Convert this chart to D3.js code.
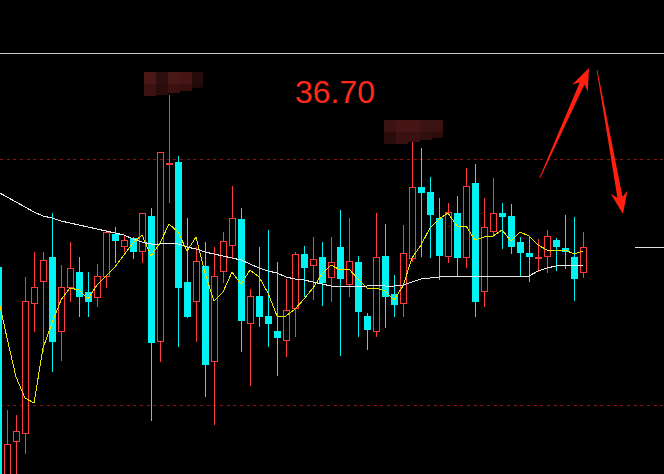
<!DOCTYPE html>
<html><head><meta charset="utf-8">
<script src="https://cdn.jsdelivr.net/npm/d3@7/dist/d3.min.js"></script>
<style>html,body{margin:0;padding:0;background:#000;overflow:hidden}svg{display:block}</style>
</head><body><svg id="c" width="664" height="474"></svg>
<script>
// ---- data (index -1 .. 64) ----
const startIndex = -1;
const opens  = [34.56,32.38,32.81,32.89,34.19,34.41,34.66,33.91,34.35,34.51,34.31,34.25,34.46,34.89,34.76,34.85,34.71,35.07,33.81,35.58,35.61,34.41,34.21,34.57,33.61,34.51,34.77,35.04,33.99,34.27,34.07,33.92,33.82,34.14,34.69,34.57,34.66,34.45,34.76,34.38,34.61,34.07,33.91,34.67,34.29,34.19,34.64,35.36,35.31,35.05,34.66,35.10,34.65,35.40,34.31,34.91,35.10,35.07,34.81,34.70,34.64,34.66,34.83,34.75,34.66,34.50];
const highs  = [34.61,33.13,33.08,34.46,34.71,34.71,35.10,34.58,34.81,34.66,34.51,34.59,34.93,34.96,34.88,34.86,35.10,35.15,35.71,36.28,35.67,35.05,34.76,34.81,34.76,34.91,35.37,35.15,34.34,34.76,34.93,34.61,34.44,34.71,34.77,34.86,34.81,34.86,35.13,35.05,34.67,34.10,35.10,34.99,34.48,34.98,35.81,35.75,35.46,35.25,35.20,35.27,35.55,35.59,35.25,35.45,35.20,35.19,34.86,34.86,34.84,34.93,34.85,35.08,35.06,34.91];
const lows   = [32.33,32.28,32.33,32.69,33.91,33.71,33.51,33.62,34.21,34.06,34.06,34.16,34.35,34.60,34.71,34.64,34.60,33.02,33.61,35.20,33.76,34.05,33.81,33.26,32.98,34.40,34.64,33.71,33.37,33.96,33.76,33.47,33.66,33.86,34.26,34.23,34.17,34.21,33.67,34.26,33.86,33.73,33.86,33.95,34.06,34.06,34.61,34.66,34.65,34.43,34.60,34.46,34.55,34.06,34.16,34.86,34.74,34.69,34.46,34.41,34.51,34.50,34.52,34.54,34.22,34.45];
const closes = [32.43,32.79,32.92,34.22,34.36,34.63,33.81,34.36,34.55,34.26,34.21,34.47,34.91,34.82,34.83,34.71,35.10,33.80,35.71,35.60,34.35,34.06,34.62,33.58,34.47,34.82,35.05,34.02,34.27,34.06,33.99,33.85,34.13,34.69,34.55,34.64,34.40,34.61,34.44,34.62,34.11,33.93,34.66,34.26,34.18,34.70,35.36,35.30,35.08,34.67,35.11,34.65,35.37,34.21,34.96,35.10,35.06,34.76,34.70,34.66,34.66,34.87,34.76,34.71,34.44,34.76];
const ma5    = [34.26,33.85,33.46,33.25,33.20,33.75,34.00,34.23,34.35,34.33,34.24,34.38,34.47,34.56,34.68,34.80,34.88,34.67,34.80,34.99,34.91,34.72,34.86,34.50,34.22,34.31,34.51,34.39,34.53,34.46,34.30,34.07,34.07,34.14,34.24,34.35,34.49,34.58,34.53,34.54,34.44,34.35,34.35,34.32,34.23,34.37,34.65,34.78,34.95,35.04,35.10,34.97,34.97,34.83,34.86,34.87,34.93,34.82,34.91,34.87,34.78,34.73,34.73,34.73,34.69,34.72];
const maLong = [35.31,35.26,35.21,35.16,35.11,35.07,35.05,35.02,35.00,34.98,34.96,34.94,34.92,34.90,34.88,34.84,34.81,34.79,34.79,34.80,34.79,34.76,34.74,34.71,34.69,34.67,34.65,34.63,34.59,34.55,34.52,34.50,34.46,34.44,34.43,34.41,34.39,34.37,34.37,34.37,34.37,34.37,34.38,34.37,34.37,34.38,34.41,34.44,34.45,34.46,34.47,34.46,34.47,34.47,34.47,34.47,34.47,34.47,34.47,34.47,34.52,34.55,34.57,34.58,34.58,34.58];
const refLevel = 36.70;
const gridLevels = [35.64, 33.18];
const lastPrice = 34.76;
const labelText = "36.70";
const censoredHighs = [18, 45];
const arrowsData = [
  {from:[59.2,35.45], to:[64.67,36.55]},
  {from:[65.56,36.53], to:[68.44,35.09]}
];

// ---- chart ----
const W = 664, H = 474;
const RED = "#ff3a3a", CYAN = "#00f2f2";
const svg = d3.select("#c");
svg.append("rect").attr("width",W).attr("height",H).attr("fill","#000");

const x = d3.scaleLinear().domain([0,64]).range([7,583]);
const y = d3.scaleLinear().domain([32.49,37.23]).range([H,0]);

const bars = opens.map((o,k)=>({i:k+startIndex,o,h:highs[k],l:lows[k],c:closes[k]}));

// reference lines
svg.append("line").attr("x1",0).attr("x2",W)
  .attr("y1",Math.round(y(refLevel))+0.5).attr("y2",Math.round(y(refLevel))+0.5)
  .attr("stroke","#c8c8c8").attr("stroke-width",1).attr("shape-rendering","crispEdges");
svg.selectAll("line.grid").data(gridLevels).join("line").attr("class","grid")
  .attr("x1",0).attr("x2",W)
  .attr("y1",d=>Math.round(y(d))+0.5).attr("y2",d=>Math.round(y(d))+0.5)
  .attr("stroke","#8a1414").attr("stroke-width",1).attr("stroke-dasharray","3,3.67")
  .attr("shape-rendering","crispEdges");

// candles
const g = svg.append("g").attr("shape-rendering","crispEdges");
bars.forEach(b=>{
  const cx = Math.round(x(b.i));
  const up = b.c >= b.o;
  const yt = Math.round(y(Math.max(b.o,b.c))), yb = Math.round(y(Math.min(b.o,b.c)));
  const yh = Math.round(y(b.h)), yl = Math.round(y(b.l));
  if (up) {
    if (yb - yt < 3) {
      g.append("rect").attr("x",cx+0.5-0.5).attr("y",yh).attr("width",1).attr("height",Math.max(1,yl-yh)).attr("fill",RED);
      g.append("rect").attr("x",cx-3).attr("y",yt).attr("width",7).attr("height",Math.max(2,yb-yt)).attr("fill",RED);
    } else {
      if (yt > yh) g.append("rect").attr("x",cx).attr("y",yh).attr("width",1).attr("height",yt-yh).attr("fill",RED);
      if (yl > yb) g.append("rect").attr("x",cx).attr("y",yb).attr("width",1).attr("height",yl-yb).attr("fill",RED);
      g.append("rect").attr("x",cx-2.5).attr("y",yt+0.5).attr("width",6).attr("height",yb-yt-1)
        .attr("fill","none").attr("stroke",RED).attr("stroke-width",1);
    }
  } else {
    g.append("rect").attr("x",cx).attr("y",yh).attr("width",1).attr("height",Math.max(1,yl-yh)).attr("fill",CYAN);
    g.append("rect").attr("x",cx-3).attr("y",yt).attr("width",7).attr("height",Math.max(1,yb-yt)).attr("fill",CYAN);
  }
});

// moving averages
const line = d3.line().x((d,k)=>x(k+startIndex)).y(d=>y(d));
svg.append("path").attr("d",line(maLong)).attr("fill","none").attr("stroke","#e8e8e8")
  .attr("stroke-width",1).attr("shape-rendering","crispEdges");
svg.append("path").attr("d",line(ma5)).attr("fill","none").attr("stroke","#e8e800")
  .attr("stroke-width",1).attr("shape-rendering","crispEdges");

// current price marker
const lp = Math.round(y(lastPrice))+0.5;
svg.append("line").attr("x1",x(64)+52).attr("x2",W).attr("y1",lp).attr("y2",lp)
  .attr("stroke","#e0e0e0").attr("stroke-width",1).attr("shape-rendering","crispEdges");

// censored (mosaic) labels near highs
const mosaicTop = [["#4a1616","#2e0e0e","#481717","#461616","#250b0b"],["#3c1313","#461616","#461616","#3c1313","#3a1212"]];
const mosaicBot = [["#3c1212","#2a0c0c","#3a1010","#380f0f","#1e0808"],["#2a0c0c","#3a1010","#3a1010","#320e0e","#2a0c0c"]];
const botH = [[12,11,9,7,4],[12,12,10,8,6]];
const offs = [[-25,-23],[-28,-22]];
censoredHighs.forEach((ci,m)=>{
  const k = ci - startIndex;
  const ax = Math.round(x(ci)) + offs[m][0], ay = Math.round(y(highs[k])) + offs[m][1];
  const cw = [12,12,12,12,11];
  let xx = ax;
  for (let c=0;c<5;c++){
    svg.append("rect").attr("x",xx).attr("y",ay).attr("width",cw[c]).attr("height",12).attr("fill",mosaicTop[m][c]);
    svg.append("rect").attr("x",xx).attr("y",ay+12).attr("width",cw[c]).attr("height",botH[m][c]).attr("fill",mosaicBot[m][c]);
    xx += cw[c];
  }
});

// big label
svg.append("text").attr("x",x(32)).attr("y",y(refLevel)+50)
  .attr("font-family","Liberation Sans, Arial, sans-serif").attr("font-size",32)
  .attr("fill","#ff2a1a").text(labelText);

// arrows
function arrowPoly(t,p,L,hw){
  const dx=p[0]-t[0], dy=p[1]-t[1], len=Math.hypot(dx,dy);
  const ux=dx/len, uy=dy/len, nx=-uy, ny=ux;
  const bx=p[0]-ux*L, by=p[1]-uy*L;
  const sx=bx+ux*5, sy=by+uy*5;
  return [[t[0]+nx*0.4,t[1]+ny*0.4],[sx+nx*2.6,sy+ny*2.6],[bx+nx*hw,by+ny*hw],p,
          [bx-nx*hw,by-ny*hw],[sx-nx*2.6,sy-ny*2.6],[t[0]-nx*0.4,t[1]-ny*0.4]];
}
arrowsData.forEach(a=>{
  const t=[x(a.from[0]),y(a.from[1])], p=[x(a.to[0]),y(a.to[1])];
  svg.append("polygon").attr("points",arrowPoly(t,p,22,8.5).map(q=>q.join(",")).join(" "))
    .attr("fill","#ff2010");
});
</script></body></html>
